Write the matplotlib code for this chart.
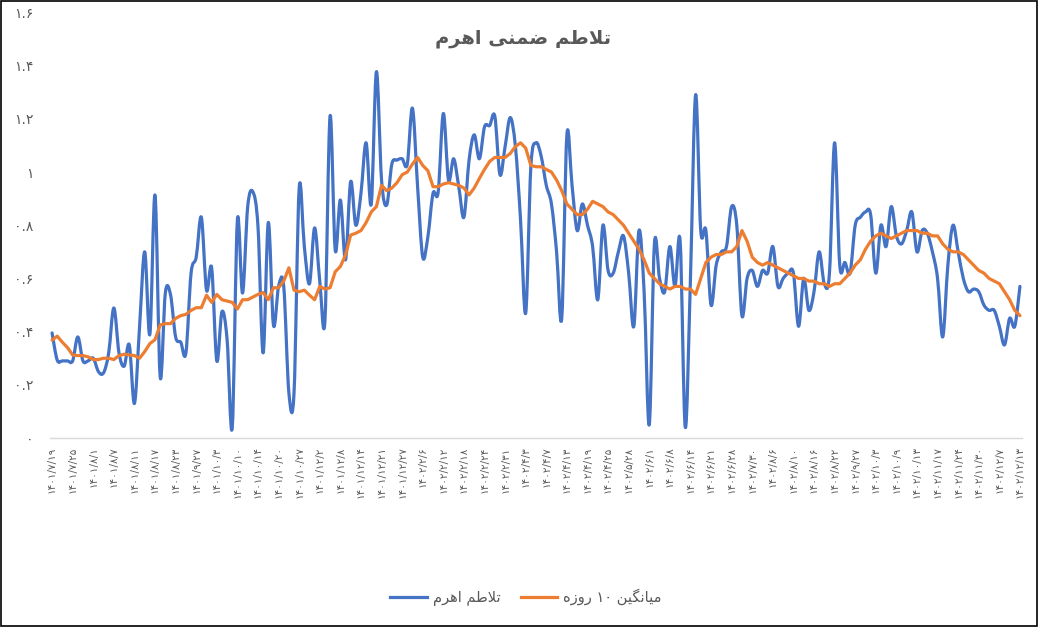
import matplotlib
matplotlib.use("Agg")
import matplotlib.pyplot as plt
import numpy as np
from matplotlib.path import Path
from matplotlib.patches import PathPatch, Rectangle
from matplotlib.lines import Line2D

# data (4 trading days per labelled date)
date_labels = [
    "1401/7/19", "1401/7/25", "1401/8/1", "1401/8/7", "1401/8/11", "1401/8/17",
    "1401/8/23", "1401/9/27", "1401/10/3", "1401/10/10", "1401/10/14", "1401/10/20",
    "1401/10/27", "1401/12/2", "1401/12/8", "1401/12/14", "1401/12/21", "1401/12/27",
    "1402/2/6", "1402/2/12", "1402/2/18", "1402/2/24", "1402/2/31", "1402/4/3",
    "1402/4/7", "1402/4/13", "1402/4/19", "1402/4/25", "1402/5/28", "1402/6/1",
    "1402/6/8", "1402/6/14", "1402/6/21", "1402/6/28", "1402/7/30", "1402/8/6",
    "1402/8/10", "1402/8/16", "1402/8/22", "1402/9/27", "1402/10/3", "1402/10/9",
    "1402/10/13", "1402/11/17", "1402/11/24", "1402/11/30", "1402/12/7", "1402/12/13",
]

volatility = [
    0.395, 0.293, 0.29, 0.29, 0.29, 0.38, 0.29, 0.29, 0.30, 0.25,
    0.245, 0.32, 0.489, 0.32, 0.27, 0.35, 0.13, 0.42, 0.70, 0.39,
    0.913, 0.23, 0.545, 0.54, 0.38, 0.36, 0.32, 0.62, 0.68, 0.83,
    0.556, 0.64, 0.29, 0.475, 0.37, 0.04, 0.82, 0.545, 0.87, 0.926,
    0.795, 0.32, 0.81, 0.425, 0.57, 0.57, 0.17, 0.17, 0.94, 0.72,
    0.58, 0.79, 0.59, 0.44, 1.21, 0.707, 0.895, 0.67, 0.964, 0.80,
    0.92, 1.11, 0.88, 1.377, 0.97, 0.876, 1.03, 1.045, 1.05, 1.03,
    1.24, 0.945, 0.68, 0.757, 0.92, 0.925, 1.22, 0.97, 1.05, 0.945,
    0.83, 1.045, 1.14, 1.05, 1.17, 1.175, 1.21, 0.99, 1.096, 1.205,
    1.096, 0.82, 0.47, 1.02, 1.11, 1.06, 0.95, 0.88, 0.70, 0.45,
    1.14, 0.95, 0.78, 0.88, 0.80, 0.72, 0.52, 0.80, 0.63, 0.62,
    0.70, 0.76, 0.62, 0.42, 0.78, 0.55, 0.05, 0.73, 0.60, 0.55,
    0.72, 0.57, 0.74, 0.04, 0.60, 1.29, 0.78, 0.78, 0.50, 0.65,
    0.70, 0.72, 0.87, 0.80, 0.46, 0.60, 0.63, 0.57, 0.63, 0.62,
    0.72, 0.57, 0.60, 0.62, 0.62, 0.42, 0.60, 0.48, 0.55, 0.70,
    0.58, 0.62, 1.11, 0.65, 0.66, 0.62, 0.80, 0.83, 0.85, 0.84,
    0.62, 0.80, 0.72, 0.87, 0.76, 0.73, 0.78, 0.85, 0.70, 0.78,
    0.77, 0.70, 0.60, 0.38, 0.65, 0.80, 0.70, 0.60, 0.55, 0.56,
    0.55, 0.50, 0.48, 0.48, 0.42, 0.35, 0.45, 0.42, 0.57,
]

avg10 = [
    0.368, 0.383, 0.36, 0.34, 0.312, 0.31, 0.31, 0.305, 0.295, 0.295,
    0.30, 0.30, 0.295, 0.31, 0.315, 0.312, 0.31, 0.30, 0.325, 0.355,
    0.37, 0.425, 0.43, 0.43, 0.45, 0.46, 0.465, 0.48, 0.49, 0.49,
    0.537, 0.51, 0.54, 0.52, 0.515, 0.51, 0.485, 0.52, 0.52, 0.53,
    0.54, 0.547, 0.52, 0.565, 0.565, 0.59, 0.64, 0.556, 0.55, 0.556,
    0.537, 0.52, 0.57, 0.56, 0.565, 0.625, 0.645, 0.688, 0.763, 0.77,
    0.78, 0.81, 0.85, 0.87, 0.95, 0.93, 0.94, 0.96, 0.99, 1.0,
    1.03, 1.055, 1.025, 1.005, 0.945, 0.945, 0.955, 0.96, 0.955, 0.95,
    0.94, 0.914, 0.94, 0.976, 1.01, 1.04, 1.055, 1.055, 1.055, 1.07,
    1.096, 1.11, 1.09, 1.025, 1.02, 1.02, 1.01, 1.0, 0.97, 0.93,
    0.88, 0.86, 0.84, 0.84, 0.86, 0.89, 0.88, 0.87, 0.85, 0.84,
    0.82, 0.80, 0.77, 0.74, 0.71, 0.67, 0.62, 0.60, 0.58, 0.57,
    0.56, 0.57, 0.57, 0.56, 0.56, 0.54, 0.60, 0.66, 0.68, 0.69,
    0.69, 0.70, 0.70, 0.72, 0.78, 0.74, 0.68, 0.66, 0.65, 0.66,
    0.65, 0.64, 0.63, 0.62, 0.61, 0.60, 0.60, 0.59, 0.59, 0.58,
    0.58, 0.57, 0.58, 0.58, 0.60, 0.62, 0.65, 0.67, 0.71, 0.74,
    0.76, 0.77, 0.76, 0.75, 0.76, 0.77, 0.78, 0.78, 0.78, 0.77,
    0.77, 0.76, 0.76, 0.73, 0.71, 0.70, 0.70, 0.69, 0.67, 0.65,
    0.63, 0.62, 0.60, 0.59, 0.58, 0.55, 0.52, 0.48, 0.46,
]

y_ticks = [0, 0.2, 0.4, 0.6, 0.8, 1, 1.2, 1.4, 1.6]

assert len(volatility) == len(avg10) == 4 * (len(date_labels) - 1) + 1

TITLE = "تلاطم ضمنی اهرم"
NAME_VOL = "تلاطم اهرم"
NAME_AVG = "میانگین ۱۰ روزه"

BLUE = "#4472C4"
ORANGE = "#ED7D31"
GREY = "#595959"

# contextual forms: isolated, final, initial, medial
FORMS = {
    "ا": ("\uFE8D", "\uFE8E", None, None),
    "ت": ("\uFE95", "\uFE96", "\uFE97", "\uFE98"),
    "ل": ("\uFEDD", "\uFEDE", "\uFEDF", "\uFEE0"),
    "ط": ("\uFEC1", "\uFEC2", "\uFEC3", "\uFEC4"),
    "م": ("\uFEE1", "\uFEE2", "\uFEE3", "\uFEE4"),
    "ض": ("\uFEBD", "\uFEBE", "\uFEBF", "\uFEC0"),
    "ن": ("\uFEE5", "\uFEE6", "\uFEE7", "\uFEE8"),
    "ی": ("\uFBFC", "\uFBFD", "\uFBFE", "\uFBFF"),
    "ه": ("\uFEE9", "\uFEEA", "\uFEEB", "\uFEEC"),
    "ر": ("\uFEAD", "\uFEAE", None, None),
    "و": ("\uFEED", "\uFEEE", None, None),
    "ز": ("\uFEAF", "\uFEB0", None, None),
    "گ": ("\uFB92", "\uFB93", "\uFB94", "\uFB95"),
    "لا": ("\uFEFB", "\uFEFC", None, None),
}
FA_DIGITS = str.maketrans("0123456789", "۰۱۲۳۴۵۶۷۸۹")


def fa(s):
    return str(s).translate(FA_DIGITS)


def shape_rtl(text):
    """Join Persian letters and put them in visual (left-to-right) order."""
    tokens = []
    i = 0
    while i < len(text):
        if text[i:i + 2] == "لا":
            tokens.append("لا")
            i += 2
        else:
            tokens.append(text[i])
            i += 1
    out = []
    for k, t in enumerate(tokens):
        if t not in FORMS:
            out.append(t)
            continue
        prev = tokens[k - 1] if k > 0 else None
        nxt = tokens[k + 1] if k + 1 < len(tokens) else None
        join_prev = prev in FORMS and FORMS[prev][2] is not None
        join_next = FORMS[t][2] is not None and nxt in FORMS
        iso, fin, ini, med = FORMS[t]
        if join_prev and join_next:
            out.append(med)
        elif join_prev:
            out.append(fin)
        elif join_next:
            out.append(ini)
        else:
            out.append(iso)
    # reverse, keeping digit runs in their own order
    runs = []
    for ch in out:
        if ch.isdigit() and runs and runs[-1][0].isdigit():
            runs[-1] += ch
        else:
            runs.append(ch)
    return "".join(reversed(runs))


def smooth_path(xs, ys):
    pts = np.column_stack([xs, ys]).astype(float)
    n = len(pts)
    verts = [pts[0]]
    codes = [Path.MOVETO]
    for i in range(n - 1):
        p0 = pts[max(i - 1, 0)]
        p1 = pts[i]
        p2 = pts[i + 1]
        p3 = pts[min(i + 2, n - 1)]
        c1 = p1 + (p2 - p0) / 6.0
        c2 = p2 - (p3 - p1) / 6.0
        verts += [c1, c2, p2]
        codes += [Path.CURVE4] * 3
    return Path(verts, codes)


plt.rcParams["font.family"] = ["DejaVu Sans"]

fig = plt.figure(figsize=(10.38, 6.27), dpi=100)
W, H = 1038, 627
ax = fig.add_axes([50 / W, 1 - 438 / H, 972 / W, (438 - 12.5) / H])

x = np.arange(len(volatility))
ax.add_patch(PathPatch(smooth_path(x, volatility), facecolor="none",
                       edgecolor=BLUE, lw=2.3, capstyle="round",
                       joinstyle="round", zorder=2))
ax.plot(x, avg10, color=ORANGE, lw=2.3, solid_joinstyle="round",
        solid_capstyle="round", zorder=3)

ax.set_xlim(-0.4, len(x) - 0.6)
ax.set_ylim(0, 1.6)

ax.set_yticks(y_ticks)
ax.set_yticklabels([fa(f"{v:g}") for v in y_ticks], fontsize=10, color=GREY)
ax.set_xticks(np.arange(0, len(x), 4))
ax.set_xticklabels([fa(d) for d in date_labels], rotation=90, fontsize=7.5,
                   color=GREY)
ax.tick_params(axis="y", length=0, pad=12)
ax.tick_params(axis="x", length=0, pad=6)

for side in ["top", "right", "left"]:
    ax.spines[side].set_visible(False)
ax.spines["bottom"].set_color("#D9D9D9")
ax.spines["bottom"].set_linewidth(1)

fig.text(523 / W, 1 - 38 / H, shape_rtl(TITLE), ha="center", va="center",
         fontsize=14, fontweight="bold", color=GREY)

handles = [Line2D([], [], color=BLUE, lw=2.3),
           Line2D([], [], color=ORANGE, lw=2.3)]
fig.legend(handles, [shape_rtl(NAME_VOL), shape_rtl(NAME_AVG)],
           loc="center", bbox_to_anchor=(526 / W, 1 - 597 / H), ncol=2,
           frameon=False, fontsize=10.5, handlelength=2.5, handletextpad=0.4,
           columnspacing=1.4, labelcolor=GREY)

fig.patches.append(Rectangle((0.0008, 0.0012), 0.9984, 0.9976,
                             transform=fig.transFigure, fill=False,
                             edgecolor="black", lw=1.2))

fig.savefig("out.png", dpi=100)
